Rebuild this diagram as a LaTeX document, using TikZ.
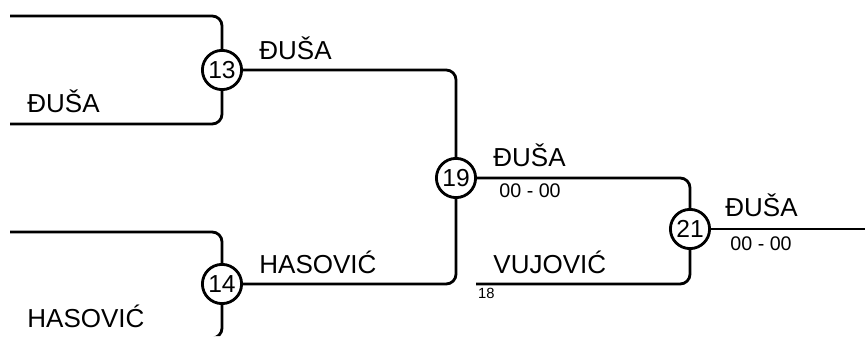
\documentclass[tikz,border=0pt]{standalone}
\usepackage{fontspec}
\setmainfont{Liberation Sans}
\usepackage{tikz}

\begin{document}
\begin{tikzpicture}[line width=2pt, rounded corners=7pt,
	match/.style={circle, draw, fill=white, inner sep=0pt, minimum size=0.98cm, font=\fontsize{17.5}{17.5}\selectfont},
	player/.style={anchor=base west, inner sep=0pt, font=\fontsize{18.5}{18.5}\selectfont},
	score/.style={anchor=base west, inner sep=0pt, font=\fontsize{14}{14}\selectfont},
	seed/.style={anchor=base west, inner sep=0pt, font=\fontsize{10.5}{10.5}\selectfont}]

	\clip (0,0) rectangle (21.625,8.4);
	\useasboundingbox (0,0) rectangle (21.625,8.4);

	\coordinate (t13) at (0.25,8);
	\coordinate (b13) at (0.25,5.3);
	\coordinate (t14) at (0.25,2.6);
	\coordinate (b14) at (0.25,-0.05);
	\coordinate (v18) at (11.9,1.3);
	\coordinate (fin) at (21.7,2.675);

	\node[match] (m13) at (5.55,6.65) {13};
	\node[match] (m14) at (5.55,1.3) {14};
	\node[match] (m19) at (11.4,3.95) {19};
	\node[match] (m21) at (17.25,2.675) {21};

	\draw (t13) -| (m13);
	\draw (b13) -| (m13);
	\draw (t14) -| (m14);
	\draw (b14) -| (m14);
	\draw (m13) -| (m19);
	\draw (m14) -| (m19);
	\draw (m19) -| (m21);
	\draw (v18) -| (m21);
	\draw (m21) -- (fin);

	\node[player] (p13) at (6.45,6.9) {ĐUŠA};
	\node[player] (p13b) at (0.65,5.575) {ĐUŠA};
	\node[player] (p14) at (6.45,1.575) {HASOVIĆ};
	\node[player] (p14b) at (0.65,0.225) {HASOVIĆ};
	\node[player] (p19) at (12.3,4.225) {ĐUŠA};
	\node[score] (s19) at (12.45,3.45) {00 - 00};
	\node[player] (p18) at (12.3,1.575) {VUJOVIĆ};
	\node[seed] (n18) at (11.92,0.95) {18};
	\node[player] (p21) at (18.1,2.975) {ĐUŠA};
	\node[score] (s21) at (18.225,2.15) {00 - 00};

\end{tikzpicture}
\end{document}
